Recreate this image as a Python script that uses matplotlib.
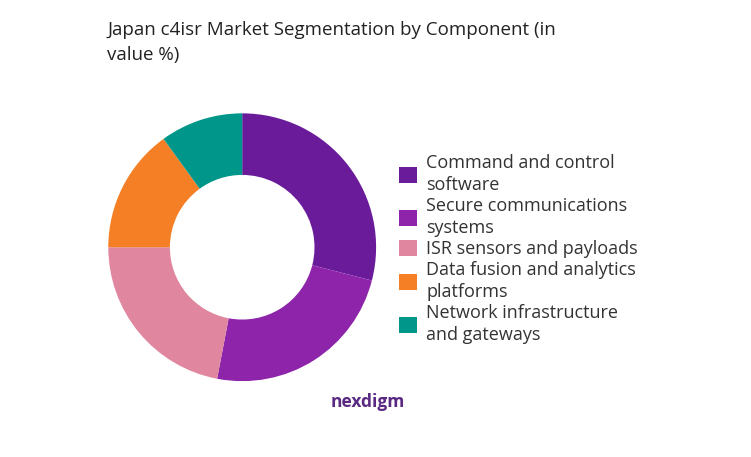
import matplotlib
matplotlib.use("Agg")
import matplotlib.pyplot as plt

categories = ["Command and control\nsoftware", "Secure communications\nsystems",
              "ISR sensors and payloads", "Data fusion and analytics\nplatforms",
              "Network infrastructure\nand gateways"]
values = [29, 24, 22, 15, 10]
colors = ["#6A1B9A", "#8E24AA", "#E0879F", "#F47F24", "#00978A"]

plt.rcParams['font.family'] = ['Open Sans', 'DejaVu Sans']
fig = plt.figure(figsize=(7.51, 4.57), dpi=100)
ax = fig.add_axes([0.144, 0.166, 0.357, 0.586])
wedges, _ = ax.pie(values, colors=colors, startangle=90, counterclock=False,
                   wedgeprops=dict(width=0.46))
ax.set_xlim(-1, 1); ax.set_ylim(-1, 1)
ax.set_aspect('equal')
fig.text(0.143, 0.955, "Japan c4isr Market Segmentation by Component (in\nvalue %)",
         fontsize=13.5, va='top', color='#222222', linespacing=1.5)
leg = fig.legend(wedges, categories, loc='center left', bbox_to_anchor=(0.51, 0.455),
                 frameon=False, fontsize=13, handlelength=1.0, handleheight=1.0,
                 handletextpad=0.5, labelspacing=0.15, labelcolor='#333333')
for t in leg.get_texts():
    t.set_linespacing(1.3)
fig.text(0.44, 0.12, "nexdigm", fontsize=12.5, fontweight='bold', color='#5a2a82',
         ha='left', va='center')
fig.savefig("out.png", dpi=100)
